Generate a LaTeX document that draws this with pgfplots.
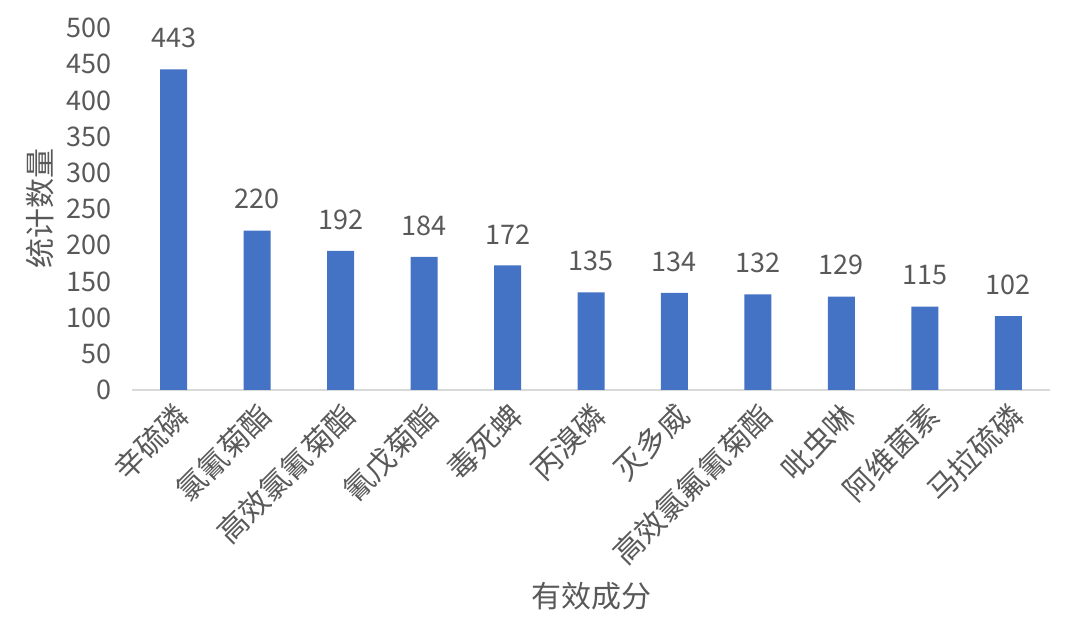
\documentclass[border=0pt]{standalone}
\usepackage{pgfplots}
\pgfplotsset{compat=1.18}
\usepackage{fontspec}
\setmainfont{Noto Sans CJK SC}
\definecolor{barblue}{HTML}{4472C4}
\definecolor{txtgray}{HTML}{595959}
\definecolor{axgray}{HTML}{D9D9D9}
\begin{document}
\begin{tikzpicture}
\begin{axis}[
    at={(66pt,114.5pt)}, anchor=south west,
    scale only axis, width=459pt, height=181pt,
    xmin=-0.5, xmax=10.5, ymin=0, ymax=500,
    ybar, bar width=13.5pt,
    axis x line*=bottom, axis y line*=left,
    y axis line style={draw=none},
    x axis line style={draw=axgray, line width=0.8pt, -},
    major tick length=0pt,
    /pgf/number format/assume math mode=true,
    xtick=data,
    xticklabels={辛硫磷,氯氰菊酯,高效氯氰菊酯,氰戊菊酯,毒死蜱,丙溴磷,灭多威,高效氯氟氰菊酯,吡虫啉,阿维菌素,马拉硫磷},
    ytick={0,50,...,500},
    xticklabel style={xshift=-0.5pt, yshift=-5pt, rotate=45, anchor=north east, inner sep=0pt,
        font=\fontsize{15}{15}\selectfont, text=txtgray},
    yticklabel style={anchor=east, inner sep=0pt, xshift=-10pt,
        font=\fontsize{13.5}{13.5}\selectfont, text=txtgray},
    nodes near coords,
    every node near coord/.append style={font=\fontsize{13.5}{13.5}\selectfont,
        text=txtgray, inner sep=0pt, anchor=south, yshift=10.5pt},
    xlabel={有效成分}, ylabel={统计数量},
    xlabel style={at={(axis description cs:0.5,-0.57)}, anchor=center,
        font=\fontsize{15}{15}\selectfont, text=txtgray},
    ylabel style={at={(axis description cs:-0.1,0.5)}, anchor=center, rotate=0,
        font=\fontsize{15}{15}\selectfont, text=txtgray},
]
\addplot[fill=barblue, draw=none] coordinates {
    (0,443) (1,220) (2,192) (3,184) (4,172) (5,135)
    (6,134) (7,132) (8,129) (9,115) (10,102)
};
\end{axis}
\pgfresetboundingbox
\useasboundingbox (0,0) rectangle (540pt,309.5pt);
\end{tikzpicture}
\end{document}
